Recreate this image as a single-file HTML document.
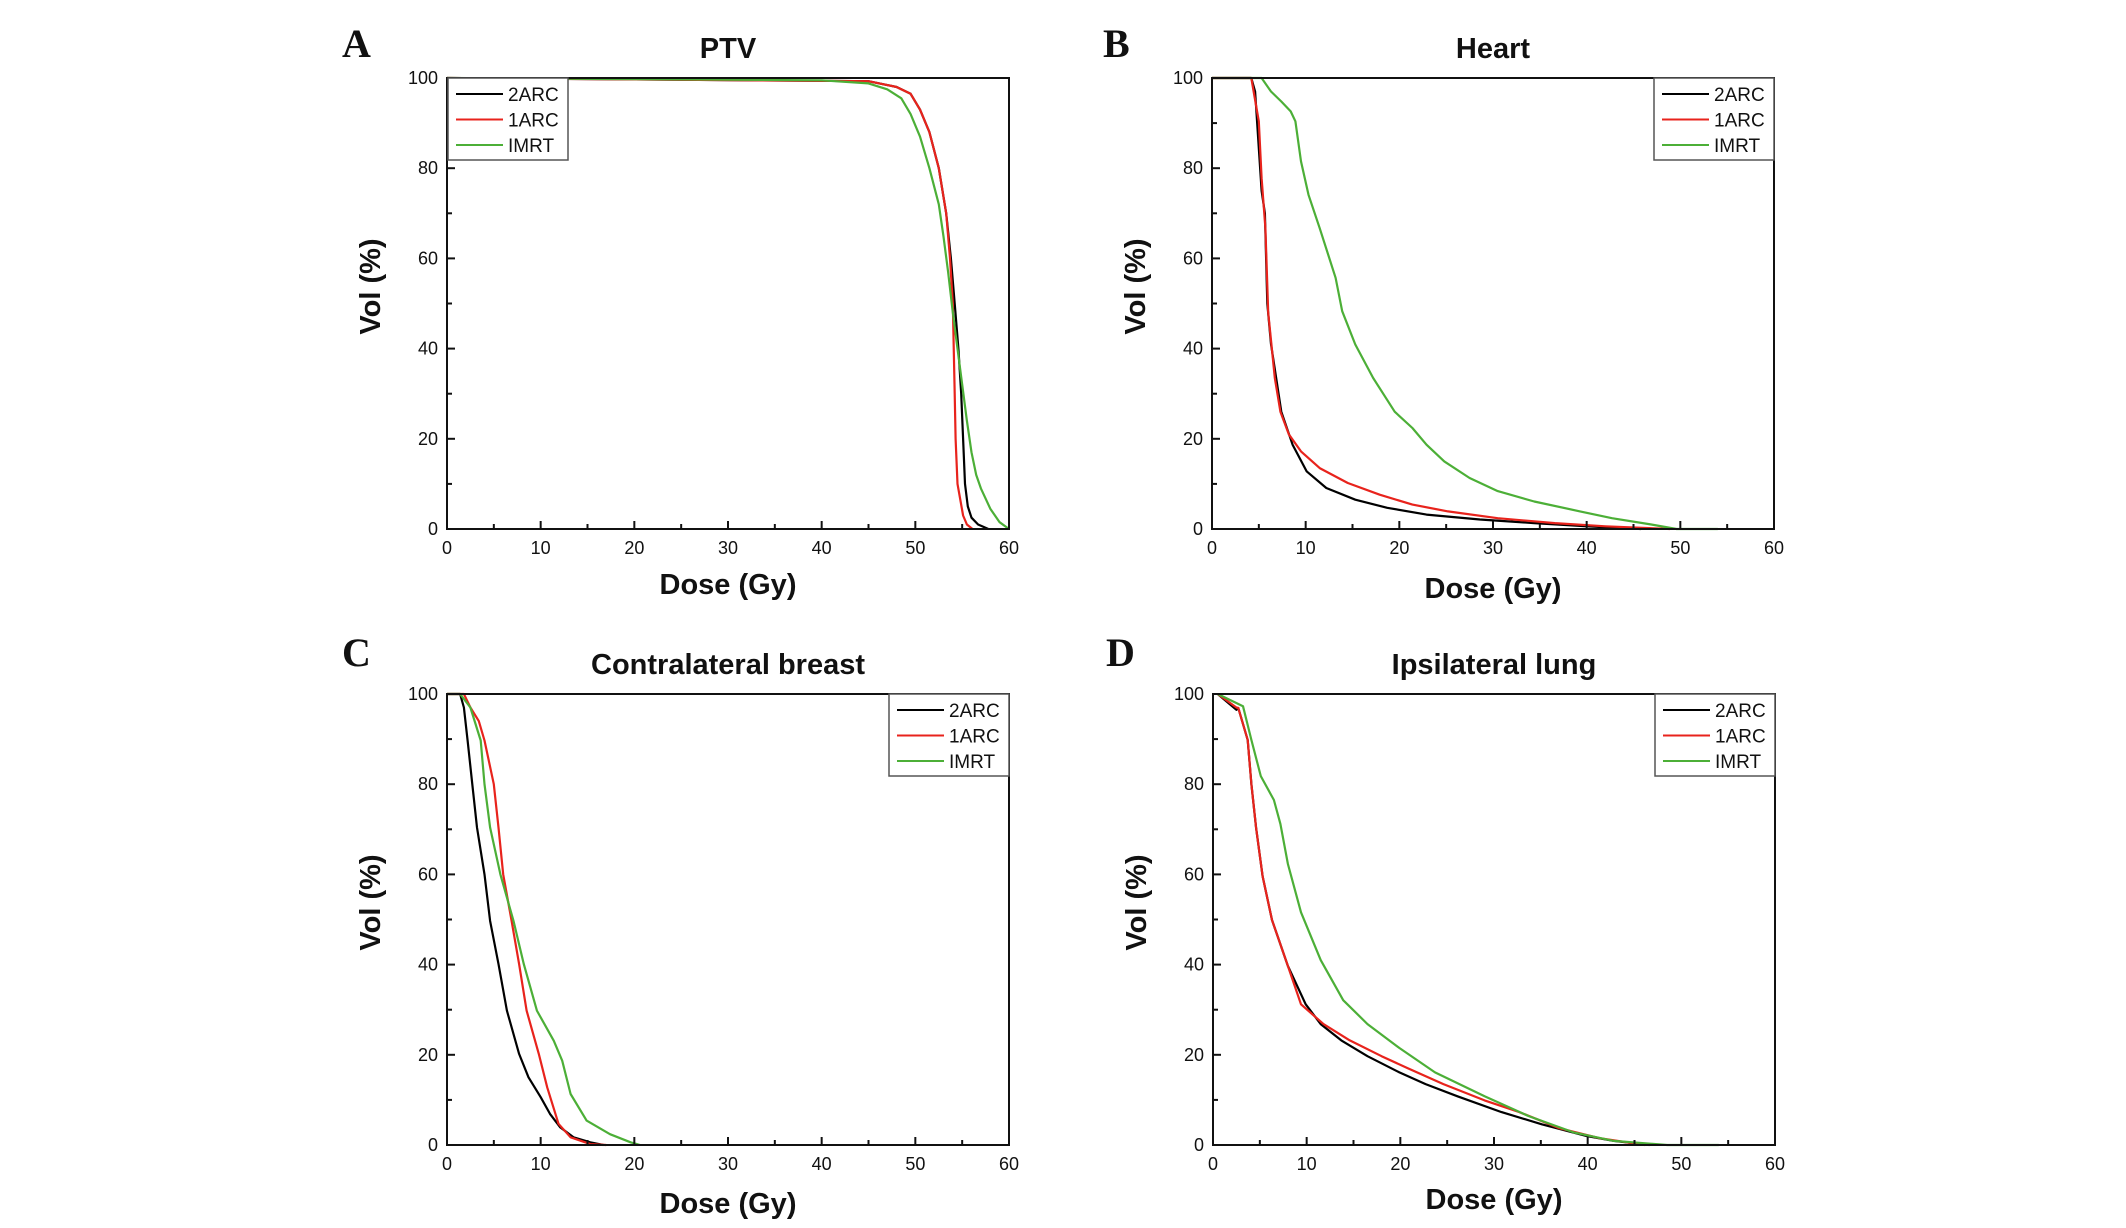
<!DOCTYPE html>
<html><head><meta charset="utf-8">
<style>
html,body{margin:0;padding:0;background:#fff;}
svg{display:block;}
text{font-family:"Liberation Sans",sans-serif;fill:#111;}
</style></head>
<body>
<svg id="fig" width="2126" height="1228" viewBox="0 0 2126 1228" xmlns="http://www.w3.org/2000/svg"></svg>
<script>
// ---- data (Dose Gy, Vol %) ----
const seriesNames = ["2ARC","1ARC","IMRT"];
const seriesColors = ["#000000","#e8231c","#4caf37"];
const xTicks = [0,10,20,30,40,50,60];
const yTicks = [0,20,40,60,80,100];

const ptv2arcX = [0,45,48,49.5,50.5,51.5,52.5,53.3,53.8,54.2,54.6,54.9,55.1,55.3,55.6,56,56.7,57.8];
const ptv2arcY = [100,99.3,98,96.5,93,88,80,70,60,50,40,30,20,10,5,2.5,1,0];
const ptv1arcX = [0,45,48,49.5,50.5,51.5,52.5,53.3,53.7,54,54.2,54.3,54.5,55.1,55.5,56.1];
const ptv1arcY = [100,99.3,98,96.5,93,88,80,70,60,50,30,20,10,3,1,0];
const ptvImrtX = [0,40,45,47,48.5,49.5,50.5,51.5,52.5,53,53.5,54,54.5,55,55.5,56,56.5,57,58,59,60];
const ptvImrtY = [100,99.5,98.8,97.5,95.5,92,87,80,72,65,57,48,40,32,24,17,12,9,4.5,1.5,0];

const h2arcX = [0,4.2,4.6,5.3,5.65,5.9,6.3,7.4,8.6,10.1,12.2,15.3,18.7,22.9,28.6,34.4,40,45.8];
const h2arcY = [100,100,97,75,70,50,41,26,18.7,12.8,9.1,6.5,4.7,3.2,2.1,1.3,0.6,0];
const h1arcX = [0,4.2,5.0,5.3,5.7,6.0,6.7,7.3,8.2,9.5,11.5,14.5,17.9,21.4,25.2,30.5,36.6,42,48.9];
const h1arcY = [100,100,90.4,77.8,66.7,48,33.5,26,21,17.2,13.5,10.2,7.6,5.4,3.9,2.4,1.3,0.6,0];
const hImrtX = [0,5.3,6.3,7.4,8.4,8.9,9.5,10.3,11.5,13.2,13.9,15.3,17.2,19.5,21.4,22.9,24.8,27.5,30.5,34.4,39.3,42.7,46.9,49.6,54];
const hImrtY = [100,100,97,94.8,92.6,90.4,81.5,74.1,66.7,55.7,48.3,40.9,33.5,26,22.4,18.7,15,11.3,8.4,6.1,3.9,2.4,1,0,0];

const c2arcX = [0,1.4,1.8,2.2,2.7,3.2,4.0,4.6,5.5,6.4,7.7,8.7,10,11,12.1,13.5,15.3,16.7];
const c2arcY = [100,100,97,89.7,80,70.4,60,49.7,40.1,29.8,20.2,15,10.6,6.9,3.9,1.7,0.6,0];
const c1arcX = [0,1.8,2.5,3.4,4.0,5.0,5.5,6.0,6.9,7.7,8.5,9.8,10.7,11.9,13.2,15.3,17];
const c1arcY = [100,100,97,94,89.7,80,70.4,60,49.7,40.1,29.8,20.2,12.8,4.7,1.7,0.2,0];
const cImrtX = [0,1.4,2.5,3.6,4.0,4.6,5.7,7.1,8.2,9.6,11.4,12.3,13.2,14.9,17.4,19.6,20.6];
const cImrtY = [100,100,97,89.7,80,70.4,60,49.7,40.1,29.8,23.1,18.7,11.3,5.4,2.4,0.6,0];

const l2arcX = [0.5,2.5,2.7,3.7,4.1,4.6,5.3,6.3,8.0,9.9,11.5,13.7,16.5,19.9,22.7,26.1,30.8,35.1,39.9,42.8,46.6];
const l2arcY = [100,96.5,96.9,89.8,80,70.3,59.6,49.9,39.7,31.2,26.8,23.2,19.7,16.1,13.5,10.8,7.3,4.6,2,0.9,0];
const l1arcX = [0.5,2.5,2.7,3.7,4.1,4.6,5.3,6.3,8.0,9.4,11.8,14.6,18,20.8,24.6,29,32.7,37,41.3,46.1];
const l1arcY = [100,97,96.9,89.8,80,70.3,59.6,49.9,39.7,31.2,26.8,23.2,19.7,17,13.5,9.9,7.3,3.7,1.5,0];
const lImrtX = [0.5,3.2,4.1,5.1,6.5,7.2,8.0,9.4,11.5,13.9,16.5,19.9,23.7,29,33.7,38.5,42.8,48.5,54];
const lImrtY = [100,97.3,89.8,81.8,76.5,71.2,62.3,51.6,41,32.1,26.8,21.5,16.1,10.8,6.4,2.8,0.9,0,0];

const panels = [
 {id:"a",letter:"A",title:"PTV",x:447,y:78,lx:342,ly:57,titleY:58,xlabY:594,legend:"left",
  xs:[ptv2arcX,ptv1arcX,ptvImrtX],ys:[ptv2arcY,ptv1arcY,ptvImrtY]},
 {id:"b",letter:"B",title:"Heart",x:1212,y:78,lx:1103,ly:57,titleY:58,xlabY:598,legend:"right",
  xs:[h2arcX,h1arcX,hImrtX],ys:[h2arcY,h1arcY,hImrtY]},
 {id:"c",letter:"C",title:"Contralateral breast",x:447,y:694,lx:342,ly:666,titleY:674,xlabY:1213,legend:"right",
  xs:[c2arcX,c1arcX,cImrtX],ys:[c2arcY,c1arcY,cImrtY]},
 {id:"d",letter:"D",title:"Ipsilateral lung",x:1213,y:694,lx:1106,ly:666,titleY:674,xlabY:1209,legend:"right",
  xs:[l2arcX,l1arcX,lImrtX],ys:[l2arcY,l1arcY,lImrtY]}
];

const NS="http://www.w3.org/2000/svg";
const svg=document.getElementById("fig");
const W=562,H=451;
function mk(tag,attrs,parent,txt){const e=document.createElementNS(NS,tag);for(const k in attrs)e.setAttribute(k,attrs[k]);if(txt!==undefined)e.textContent=txt;parent.appendChild(e);return e;}

panels.forEach(p=>{
  const g=mk("g",{},svg);
  
  
  const sx=v=>p.x+v/60*W, sy=v=>p.y+H-v/100*H;
  const L=mk("text",{x:p.lx,y:p.ly,"font-size":40,"font-weight":"bold",style:"font-family:'Liberation Serif',serif"},g,p.letter);
  
  
  const T=mk("text",{x:p.x+W/2,y:p.titleY,"font-size":29,"font-weight":"bold","text-anchor":"middle"},g,p.title);
  
  
  p.xs.forEach((xa,i)=>{
    const d=xa.map((v,j)=>(j?"L":"M")+sx(v).toFixed(1)+","+sy(p.ys[i][j]).toFixed(1)).join("");
    const path=mk("path",{d:d,fill:"none",stroke:seriesColors[i],"stroke-width":2.2,"stroke-linejoin":"round"},g);
    
    
  });
  const fr=mk("rect",{x:p.x,y:p.y,width:W,height:H,fill:"none",stroke:"#111","stroke-width":2},g);
  
  
  for(let v=0;v<=60;v+=5){const maj=v%10===0;
    mk("line",{x1:sx(v),x2:sx(v),y1:p.y+H,y2:p.y+H-(maj?8:5),stroke:"#111","stroke-width":2},g);}
  for(let v=0;v<=100;v+=10){const maj=v%20===0;
    mk("line",{x1:p.x,x2:p.x+(maj?8:5),y1:sy(v),y2:sy(v),stroke:"#111","stroke-width":2},g);}
  xTicks.forEach(v=>{const t=mk("text",{x:sx(v),y:p.y+H+25,"font-size":18,"text-anchor":"middle"},g,String(v));
    
    });
  yTicks.forEach(v=>{const t=mk("text",{x:p.x-9,y:sy(v)+6,"font-size":18,"text-anchor":"end"},g,String(v));
    
    });
  const xl=mk("text",{x:p.x+W/2,y:p.xlabY,"font-size":29,"font-weight":"bold","text-anchor":"middle"},g,"Dose (Gy)");
  
  
  const cx=p.x-77, cy=p.y+H/2-17;
  const yl=mk("text",{x:cx,y:cy,"font-size":29,"font-weight":"bold","text-anchor":"middle",transform:`rotate(-90 ${cx} ${cy}) translate(0 10)`},g,"Vol (%)");
  
  
  const lw=120,lh=82, lx0=p.legend==="left"?p.x+1:p.x+W-lw, ly0=p.y;
  const lg=mk("g",{},g);
  
  
  mk("rect",{x:lx0,y:ly0,width:lw,height:lh,fill:"#fff",stroke:"#555","stroke-width":1.5},lg);
  seriesNames.forEach((n,i)=>{const yy=ly0+16+i*25.5;
    const e=mk("g",{},lg);
    
    
    mk("line",{x1:lx0+8,x2:lx0+55,y1:yy,y2:yy,stroke:seriesColors[i],"stroke-width":2},e);
    mk("text",{x:lx0+60,y:yy+7,"font-size":19},e,n);
  });
});
</script>
</body></html>
